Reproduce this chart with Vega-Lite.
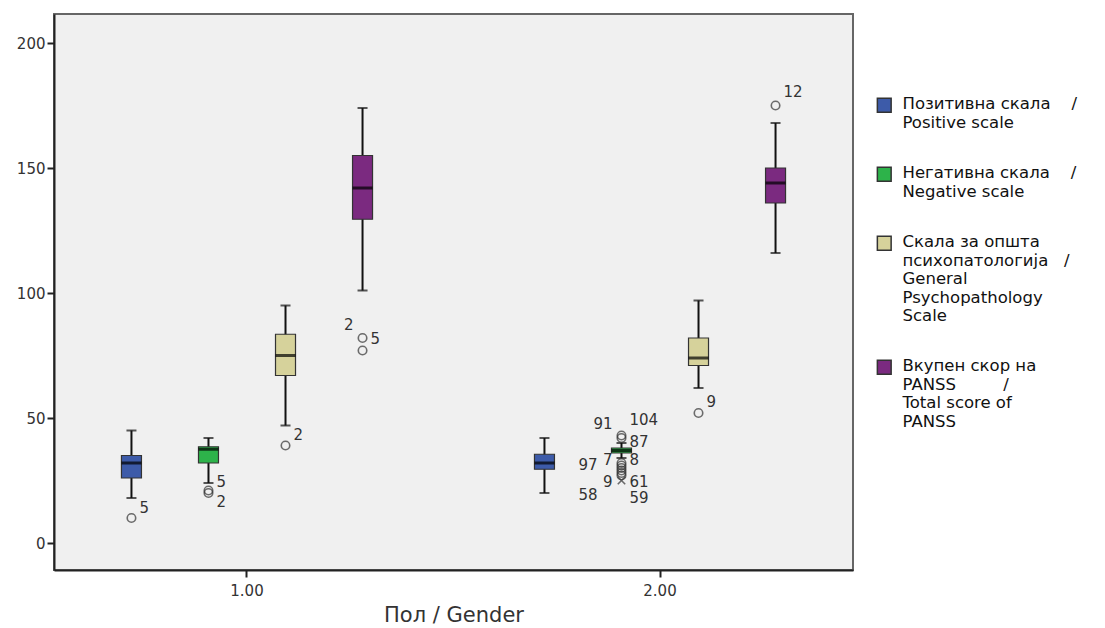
{
  "$schema": "https://vega.github.io/schema/vega-lite/v6.json",
  "width": 799,
  "height": 556,
  "autosize": {"type": "none"},
  "padding": {"left": 54, "top": 14, "right": 252, "bottom": 58},
  "background": "white",
  "config": {
    "font": "DejaVu Sans",
    "view": {"fill": "#F0F0F0", "stroke": "#666666", "strokeWidth": 2},
    "axis": {"domainColor": "#222222", "domainWidth": 2, "tickColor": "#222222", "tickWidth": 2, "tickSize": 7, "labelColor": "#333333", "labelFontSize": 15, "grid": false, "titleColor": "#333333"}
  },
  "datasets": {
    "boxes": [
      {"gender": "1.00", "scale": "Позитивна скала \u00a0 \u00a0/\nPositive scale", "lw": 18, "q1": 26, "med": 32, "q3": 35, "uw": 45},
      {"gender": "1.00", "scale": "Негативна скала \u00a0 \u00a0/\nNegative scale", "lw": 24, "q1": 32, "med": 37.5, "q3": 38.5, "uw": 42},
      {"gender": "1.00", "scale": "Скала за општа\nпсихопатологија \u00a0 /\nGeneral\nPsychopathology\nScale", "lw": 47, "q1": 67, "med": 75, "q3": 83.5, "uw": 95},
      {"gender": "1.00", "scale": "\u00a0Вкупен скор на\nPANSS \u00a0 \u00a0 \u00a0 \u00a0 /\nTotal score of\nPANSS", "lw": 101, "q1": 129.5, "med": 142, "q3": 155, "uw": 174},
      {"gender": "2.00", "scale": "Позитивна скала \u00a0 \u00a0/\nPositive scale", "lw": 20, "q1": 29.5, "med": 32, "q3": 35.5, "uw": 42},
      {"gender": "2.00", "scale": "Негативна скала \u00a0 \u00a0/\nNegative scale", "lw": 34, "q1": 36, "med": 37, "q3": 38, "uw": 40},
      {"gender": "2.00", "scale": "Скала за општа\nпсихопатологија \u00a0 /\nGeneral\nPsychopathology\nScale", "lw": 62, "q1": 71, "med": 74, "q3": 82, "uw": 97},
      {"gender": "2.00", "scale": "\u00a0Вкупен скор на\nPANSS \u00a0 \u00a0 \u00a0 \u00a0 /\nTotal score of\nPANSS", "lw": 116, "q1": 136, "med": 144, "q3": 150, "uw": 168}
    ],
    "outliers": [
      {"gender": "1.00", "scale": "Позитивна скала \u00a0 \u00a0/\nPositive scale", "value": 10, "kind": "o"},
      {"gender": "1.00", "scale": "Негативна скала \u00a0 \u00a0/\nNegative scale", "value": 21, "kind": "o"},
      {"gender": "1.00", "scale": "Негативна скала \u00a0 \u00a0/\nNegative scale", "value": 20, "kind": "o"},
      {"gender": "1.00", "scale": "Скала за општа\nпсихопатологија \u00a0 /\nGeneral\nPsychopathology\nScale", "value": 39, "kind": "o"},
      {"gender": "1.00", "scale": "\u00a0Вкупен скор на\nPANSS \u00a0 \u00a0 \u00a0 \u00a0 /\nTotal score of\nPANSS", "value": 82, "kind": "o"},
      {"gender": "1.00", "scale": "\u00a0Вкупен скор на\nPANSS \u00a0 \u00a0 \u00a0 \u00a0 /\nTotal score of\nPANSS", "value": 77, "kind": "o"},
      {"gender": "2.00", "scale": "Негативна скала \u00a0 \u00a0/\nNegative scale", "value": 43, "kind": "o"},
      {"gender": "2.00", "scale": "Негативна скала \u00a0 \u00a0/\nNegative scale", "value": 42, "kind": "o"},
      {"gender": "2.00", "scale": "Негативна скала \u00a0 \u00a0/\nNegative scale", "value": 32, "kind": "o"},
      {"gender": "2.00", "scale": "Негативна скала \u00a0 \u00a0/\nNegative scale", "value": 31, "kind": "o"},
      {"gender": "2.00", "scale": "Негативна скала \u00a0 \u00a0/\nNegative scale", "value": 30, "kind": "o"},
      {"gender": "2.00", "scale": "Негативна скала \u00a0 \u00a0/\nNegative scale", "value": 29, "kind": "o"},
      {"gender": "2.00", "scale": "Негативна скала \u00a0 \u00a0/\nNegative scale", "value": 28, "kind": "o"},
      {"gender": "2.00", "scale": "Негативна скала \u00a0 \u00a0/\nNegative scale", "value": 27, "kind": "o"},
      {"gender": "2.00", "scale": "Негативна скала \u00a0 \u00a0/\nNegative scale", "value": 25, "kind": "x"},
      {"gender": "2.00", "scale": "Скала за општа\nпсихопатологија \u00a0 /\nGeneral\nPsychopathology\nScale", "value": 52, "kind": "o"},
      {"gender": "2.00", "scale": "\u00a0Вкупен скор на\nPANSS \u00a0 \u00a0 \u00a0 \u00a0 /\nTotal score of\nPANSS", "value": 175, "kind": "o"}
    ],
    "labels": [
      {"gender": "1.00", "scale": "Позитивна скала \u00a0 \u00a0/\nPositive scale", "text": "5", "y": 14, "side": "r"},
      {"gender": "1.00", "scale": "Негативна скала \u00a0 \u00a0/\nNegative scale", "text": "5", "y": 24.5, "side": "r"},
      {"gender": "1.00", "scale": "Негативна скала \u00a0 \u00a0/\nNegative scale", "text": "2", "y": 16.5, "side": "r"},
      {"gender": "1.00", "scale": "Скала за општа\nпсихопатологија \u00a0 /\nGeneral\nPsychopathology\nScale", "text": "2", "y": 43.2, "side": "r"},
      {"gender": "1.00", "scale": "\u00a0Вкупен скор на\nPANSS \u00a0 \u00a0 \u00a0 \u00a0 /\nTotal score of\nPANSS", "text": "2", "y": 87.2, "side": "l"},
      {"gender": "1.00", "scale": "\u00a0Вкупен скор на\nPANSS \u00a0 \u00a0 \u00a0 \u00a0 /\nTotal score of\nPANSS", "text": "5", "y": 81.6, "side": "r"},
      {"gender": "2.00", "scale": "Негативна скала \u00a0 \u00a0/\nNegative scale", "text": "91", "y": 47.6, "side": "l"},
      {"gender": "2.00", "scale": "Негативна скала \u00a0 \u00a0/\nNegative scale", "text": "104", "y": 49.2, "side": "r"},
      {"gender": "2.00", "scale": "Негативна скала \u00a0 \u00a0/\nNegative scale", "text": "87", "y": 40.4, "side": "r"},
      {"gender": "2.00", "scale": "Негативна скала \u00a0 \u00a0/\nNegative scale", "text": "7", "y": 33.2, "side": "l"},
      {"gender": "2.00", "scale": "Негативна скала \u00a0 \u00a0/\nNegative scale", "text": "8", "y": 33.2, "side": "r"},
      {"gender": "2.00", "scale": "Негативна скала \u00a0 \u00a0/\nNegative scale", "text": "97", "y": 31.2, "side": "f"},
      {"gender": "2.00", "scale": "Негативна скала \u00a0 \u00a0/\nNegative scale", "text": "9", "y": 24.4, "side": "l"},
      {"gender": "2.00", "scale": "Негативна скала \u00a0 \u00a0/\nNegative scale", "text": "61", "y": 24.4, "side": "r"},
      {"gender": "2.00", "scale": "Негативна скала \u00a0 \u00a0/\nNegative scale", "text": "58", "y": 19.2, "side": "f"},
      {"gender": "2.00", "scale": "Негативна скала \u00a0 \u00a0/\nNegative scale", "text": "59", "y": 18, "side": "r"},
      {"gender": "2.00", "scale": "Скала за општа\nпсихопатологија \u00a0 /\nGeneral\nPsychopathology\nScale", "text": "9", "y": 56.5, "side": "r"},
      {"gender": "2.00", "scale": "\u00a0Вкупен скор на\nPANSS \u00a0 \u00a0 \u00a0 \u00a0 /\nTotal score of\nPANSS", "text": "12", "y": 180.5, "side": "r"}
    ]
  },
  "encoding": {
    "x": {"field": "gender", "type": "nominal", "scale": {"paddingInner": 0.254, "paddingOuter": 0.0943}, "axis": {"labelAngle": 0, "title": "Пол / Gender", "titleFontSize": 21, "titleFontWeight": "normal", "titlePadding": 6, "labelPadding": 6}},
    "xOffset": {"field": "scale", "type": "nominal", "scale": {"domain": ["Позитивна скала \u00a0 \u00a0/\nPositive scale", "Негативна скала \u00a0 \u00a0/\nNegative scale", "Скала за општа\nпсихопатологија \u00a0 /\nGeneral\nPsychopathology\nScale", "\u00a0Вкупен скор на\nPANSS \u00a0 \u00a0 \u00a0 \u00a0 /\nTotal score of\nPANSS"], "paddingInner": 0, "paddingOuter": 0}}
  },
  "layer": [
    {
      "data": {"name": "boxes"},
      "mark": {"type": "rule", "strokeWidth": 2, "color": "#111111"},
      "encoding": {
        "y": {"field": "lw", "type": "quantitative", "title": null, "scale": {"domain": [-10.8, 211.6], "nice": false, "zero": false}, "axis": {"values": [0, 50, 100, 150, 200], "title": null, "labelPadding": 2}},
        "y2": {"field": "uw"}
      }
    },
    {
      "data": {"name": "boxes"},
      "mark": {"type": "tick", "size": 10, "thickness": 2, "color": "#111111"},
      "encoding": {"y": {"field": "lw", "type": "quantitative", "title": null}}
    },
    {
      "data": {"name": "boxes"},
      "mark": {"type": "tick", "size": 10, "thickness": 2, "color": "#111111"},
      "encoding": {"y": {"field": "uw", "type": "quantitative", "title": null}}
    },
    {
      "data": {"name": "boxes"},
      "mark": {"type": "bar", "size": 20, "stroke": "#333333", "strokeWidth": 1.2},
      "encoding": {
        "y": {"field": "q1", "type": "quantitative", "title": null},
        "y2": {"field": "q3"},
        "color": {
          "field": "scale", "type": "nominal",
          "scale": {"domain": ["Позитивна скала \u00a0 \u00a0/\nPositive scale", "Негативна скала \u00a0 \u00a0/\nNegative scale", "Скала за општа\nпсихопатологија \u00a0 /\nGeneral\nPsychopathology\nScale", "\u00a0Вкупен скор на\nPANSS \u00a0 \u00a0 \u00a0 \u00a0 /\nTotal score of\nPANSS"], "range": ["#3D5BA9", "#2DB34A", "#D6D29B", "#7B2A80"]},
          "legend": {
            "title": null, "orient": "none", "legendX": 822, "legendY": 83, "padding": 0,
            "symbolType": "square", "symbolSize": 190, "symbolStrokeColor": "#333333", "symbolStrokeWidth": 1.5,
            "labelFont": "DejaVu Sans", "labelFontSize": 16.5, "labelColor": "#111111", "labelLimit": 400, "labelOffset": 10,
            "labelExpr": "split(datum.label, '\\n')", "labelBaseline": "top", "rowPadding": 32,
            "encode": {"labels": {"update": {"lineHeight": {"value": 18.5}, "dy": {"value": -9}}}}
          }
        }
      }
    },
    {
      "data": {"name": "boxes"},
      "mark": {"type": "tick", "size": 20, "thickness": 3, "color": "#000000"},
      "encoding": {"y": {"field": "med", "type": "quantitative", "title": null}}
    },
    {
      "data": {"name": "outliers"},
      "transform": [{"filter": "datum.kind == 'o'"}],
      "mark": {"type": "point", "shape": "circle", "filled": false, "stroke": "#333333", "strokeWidth": 1.6, "size": 72},
      "encoding": {"y": {"field": "value", "type": "quantitative", "title": null}}
    },
    {
      "data": {"name": "outliers"},
      "transform": [{"filter": "datum.kind == 'x'"}],
      "mark": {"type": "point", "shape": "M-1,-1L1,1M-1,1L1,-1", "filled": false, "stroke": "#333333", "strokeWidth": 1.6, "size": 55},
      "encoding": {"y": {"field": "value", "type": "quantitative", "title": null}}
    },
    {
      "data": {"name": "labels"},
      "transform": [{"filter": "datum.side == 'r'"}],
      "mark": {"type": "text", "align": "left", "baseline": "middle", "dx": 8, "fontSize": 15, "color": "#333333"},
      "encoding": {"y": {"field": "y", "type": "quantitative", "title": null}, "text": {"field": "text"}}
    },
    {
      "data": {"name": "labels"},
      "transform": [{"filter": "datum.side == 'l'"}],
      "mark": {"type": "text", "align": "right", "baseline": "middle", "dx": -9, "fontSize": 15, "color": "#333333"},
      "encoding": {"y": {"field": "y", "type": "quantitative", "title": null}, "text": {"field": "text"}}
    },
    {
      "data": {"name": "labels"},
      "transform": [{"filter": "datum.side == 'f'"}],
      "mark": {"type": "text", "align": "right", "baseline": "middle", "dx": -24, "fontSize": 15, "color": "#333333"},
      "encoding": {"y": {"field": "y", "type": "quantitative", "title": null}, "text": {"field": "text"}}
    }
  ]
}
